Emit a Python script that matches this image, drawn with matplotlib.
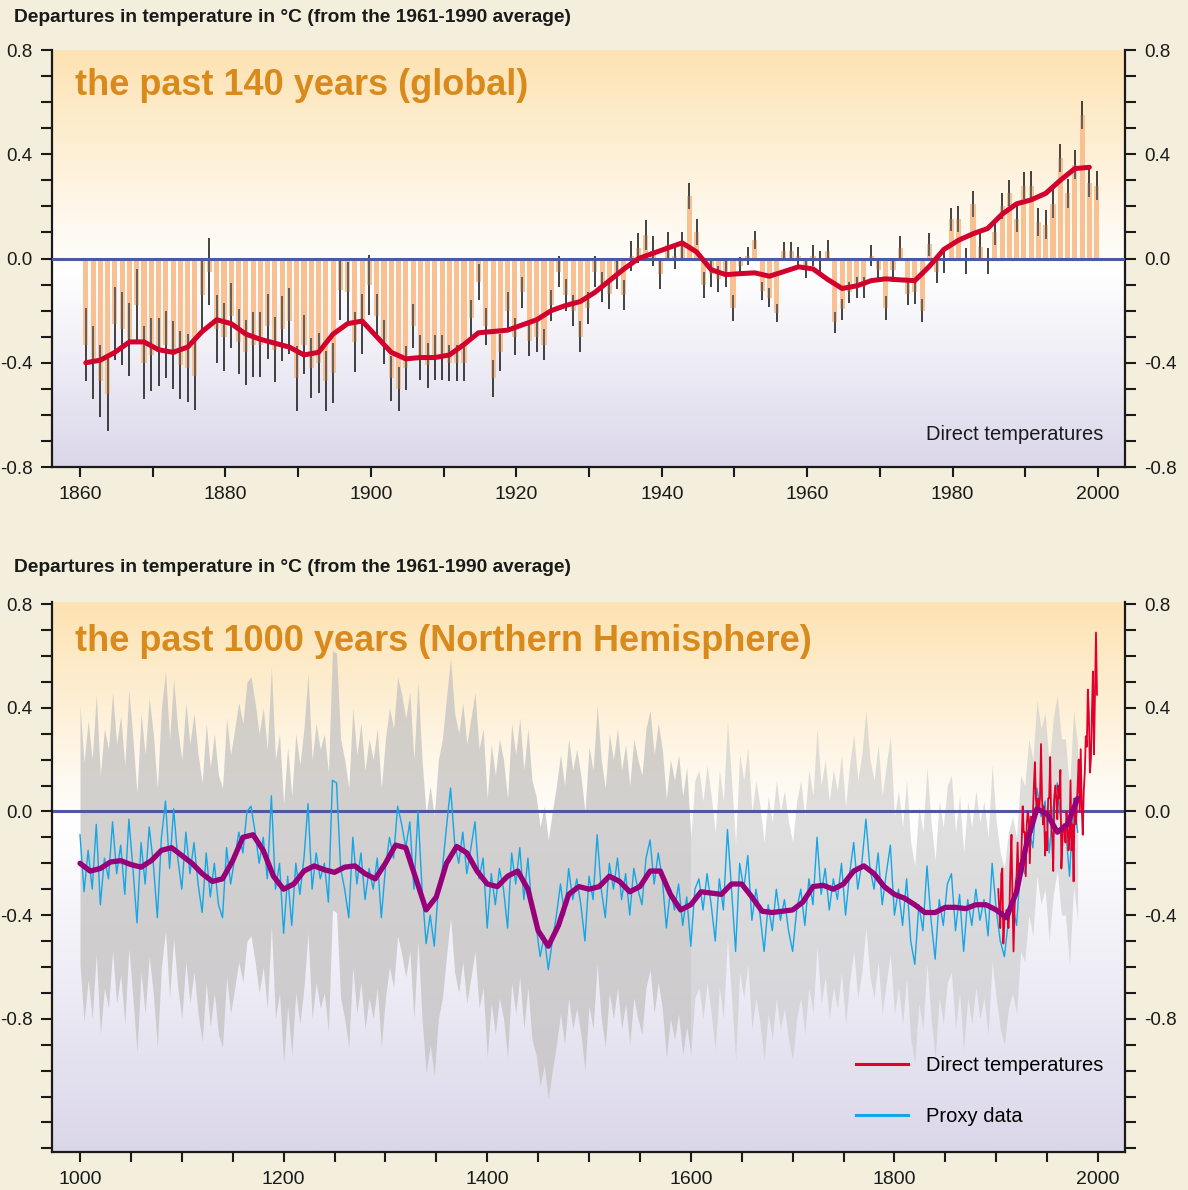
import matplotlib
matplotlib.use('Agg')
import matplotlib.pyplot as plt
import numpy as np
from matplotlib.colors import LinearSegmentedColormap
from matplotlib.lines import Line2D
from matplotlib.ticker import MultipleLocator, FixedLocator, FormatStrFormatter

plt.rcParams['font.family'] = ['Liberation Sans', 'DejaVu Sans']
plt.rcParams['axes.unicode_minus'] = False

# ---------------- dati: ultimi 140 anni (globale) ----------------
anni_140 = np.arange(1861, 2001)
anomalia_globale = [
    -0.33, -0.40, -0.47, -0.52, -0.25, -0.27, -0.31, -0.18, -0.40, -0.37,   # 1861-1870
    -0.36, -0.33, -0.37, -0.41, -0.42, -0.45, -0.14, -0.05, -0.27, -0.30,   # 1871-1880
    -0.22, -0.32, -0.36, -0.33, -0.33, -0.26, -0.35, -0.27, -0.24, -0.46,   # 1881-1890
    -0.33, -0.42, -0.40, -0.47, -0.44, -0.12, -0.13, -0.32, -0.25, -0.10,   # 1891-1900
    -0.22, -0.32, -0.46, -0.50, -0.42, -0.26, -0.38, -0.41, -0.38, -0.38,   # 1901-1910
    -0.40, -0.40, -0.40, -0.23, -0.09, -0.26, -0.46, -0.36, -0.20, -0.30,   # 1911-1920
    -0.13, -0.315, -0.30, -0.33, -0.18, -0.05, -0.14, -0.20, -0.30, -0.19,  # 1921-1930
    -0.05, -0.11, -0.135, -0.06, -0.14, 0.01, 0.04, 0.09, 0.03, -0.06,      # 1931-1940
    0.05, 0.01, 0.05, 0.24, 0.10, -0.10, -0.06, -0.08, -0.06, -0.19,        # 1941-1950
    -0.03, 0.01, 0.07, -0.125, -0.15, -0.21, 0.03, 0.03, 0.01, -0.04,       # 1951-1960
    0.01, -0.01, 0.03, -0.245, -0.195, -0.13, -0.11, -0.11, 0.01, -0.046,   # 1961-1970
    -0.19, -0.046, 0.04, -0.135, -0.13, -0.20, 0.054, -0.05, -0.01, 0.15,   # 1971-1980
    0.15, -0.01, 0.21, 0.046, -0.01, 0.10, 0.20, 0.25, 0.15, 0.28,          # 1981-1990
    0.28, 0.14, 0.13, 0.21, 0.385, 0.25, 0.36, 0.55, 0.29, 0.28,            # 1991-2000
]
# semi-ampiezza delle barre d'errore, per decennio (1861-1870 ... 1991-2000)
errore_decennio = [0.14, 0.13, 0.125, 0.115, 0.085, 0.07, 0.06, 0.058, 0.05, 0.035,
                   0.04, 0.045, 0.05, 0.055]
# curva smussata, ogni 2 anni (1861, 1863, ... 1999)
anni_media_140 = np.arange(1861, 2000, 2)
media_globale = [
    -0.40, -0.39, -0.36, -0.32, -0.32, -0.35, -0.36, -0.34, -0.28, -0.235,
    -0.25, -0.29, -0.31, -0.325, -0.34, -0.37, -0.36, -0.29, -0.25, -0.24,
    -0.30, -0.36, -0.385, -0.38, -0.38, -0.37, -0.33, -0.285, -0.28, -0.275,
    -0.255, -0.235, -0.20, -0.18, -0.165, -0.13, -0.085, -0.04, 0.00, 0.02,
    0.04, 0.06, 0.025, -0.043, -0.062, -0.058, -0.055, -0.068, -0.05, -0.032,
    -0.04, -0.08, -0.115, -0.105, -0.085, -0.078, -0.082, -0.085, -0.03, 0.035,
    0.07, 0.095, 0.115, 0.17, 0.21, 0.225, 0.25, 0.30, 0.345, 0.35,
]

# ---------------- dati: ultimi 1000 anni (emisfero nord) ----------------
anni_proxy = np.arange(1000, 1981, 4)
proxy = [
    -0.09, -0.31, -0.15, -0.30, -0.05, -0.36, -0.18, -0.26, -0.04, -0.24,   # 1000-1036
    -0.13, -0.32, -0.03, -0.22, -0.43, -0.12, -0.28, -0.06, -0.20, -0.41,   # 1040-1076
    -0.10, 0.04, -0.22, 0.01, -0.18, -0.30, -0.08, -0.24, -0.12, -0.28,     # 1080-1116
    -0.39, -0.16, -0.33, -0.20, -0.36, -0.41, -0.14, -0.28, -0.18, -0.08,   # 1120-1156
    -0.16, 0.00, 0.02, -0.08, -0.20, -0.10, -0.26, 0.06, -0.30, -0.20,      # 1160-1196
    -0.47, -0.25, -0.44, -0.20, -0.32, -0.18, 0.03, -0.30, -0.16, -0.26,    # 1200-1236
    -0.20, -0.35, 0.12, 0.11, -0.22, -0.30, -0.41, -0.10, -0.28, -0.16,     # 1240-1276
    -0.34, -0.22, -0.30, -0.18, -0.41, -0.22, -0.10, -0.18, 0.02, -0.05,    # 1280-1316
    -0.14, -0.04, -0.30, 0.00, -0.30, -0.51, -0.40, -0.52, -0.30, -0.22,    # 1320-1356
    -0.06, 0.09, -0.12, -0.20, -0.08, -0.24, -0.14, -0.04, -0.26, -0.18,    # 1360-1396
    -0.45, -0.24, -0.36, -0.22, -0.30, -0.45, -0.16, -0.28, -0.14, -0.34,   # 1400-1436
    -0.18, -0.38, -0.44, -0.56, -0.48, -0.61, -0.50, -0.40, -0.28, -0.40,   # 1440-1476
    -0.22, -0.34, -0.26, -0.36, -0.50, -0.25, -0.34, -0.09, -0.30, -0.41,   # 1480-1516
    -0.20, -0.30, -0.18, -0.34, -0.24, -0.40, -0.22, -0.30, -0.36, -0.18,   # 1520-1556
    -0.11, -0.28, -0.16, -0.26, -0.45, -0.30, -0.38, -0.28, -0.44, -0.33,   # 1560-1596
    -0.52, -0.30, -0.26, -0.38, -0.24, -0.36, -0.50, -0.26, -0.38, -0.07,   # 1600-1636
    -0.30, -0.54, -0.20, -0.30, -0.17, -0.42, -0.30, -0.40, -0.54, -0.36,   # 1640-1676
    -0.46, -0.30, -0.42, -0.34, -0.46, -0.54, -0.38, -0.30, -0.44, -0.26,   # 1680-1716
    -0.36, -0.10, -0.32, -0.22, -0.38, -0.26, -0.34, -0.20, -0.40, -0.24,   # 1720-1756
    -0.12, -0.30, -0.20, -0.03, -0.22, -0.30, -0.16, -0.36, -0.24, -0.13,   # 1760-1796
    -0.40, -0.30, -0.44, -0.26, -0.50, -0.59, -0.36, -0.46, -0.21, -0.42,   # 1800-1836
    -0.57, -0.34, -0.44, -0.28, -0.24, -0.46, -0.32, -0.54, -0.34, -0.44,   # 1840-1876
    -0.30, -0.42, -0.34, -0.48, -0.20, -0.38, -0.50, -0.56, -0.42, -0.36,   # 1880-1916
    -0.44, -0.20, -0.24, -0.06, -0.14, 0.09, -0.02, 0.04, -0.16, 0.02,      # 1920-1956
    0.11, -0.06, -0.06, -0.25, 0.05, -0.08,                                 # 1960-1980
]
# semi-ampiezza della fascia d'incertezza, per secolo (1000s ... 1900s)
incertezza_secolo = [0.50, 0.50, 0.50, 0.50, 0.50, 0.50, 0.42, 0.42, 0.38, 0.34]

anni_media_1000 = np.arange(1000, 1981, 10)
media_proxy = [
    -0.20, -0.23, -0.22, -0.195, -0.19, -0.205, -0.215, -0.19, -0.15, -0.14,   # 1000-1090
    -0.17, -0.20, -0.24, -0.27, -0.26, -0.19, -0.10, -0.09, -0.15, -0.25,      # 1100-1190
    -0.30, -0.28, -0.23, -0.21, -0.225, -0.235, -0.215, -0.21, -0.24, -0.26,   # 1200-1290
    -0.20, -0.13, -0.14, -0.26, -0.38, -0.33, -0.20, -0.135, -0.16, -0.23,     # 1300-1390
    -0.28, -0.29, -0.25, -0.23, -0.30, -0.46, -0.52, -0.44, -0.32, -0.29,      # 1400-1490
    -0.30, -0.29, -0.25, -0.27, -0.31, -0.29, -0.23, -0.23, -0.32, -0.38,      # 1500-1590
    -0.36, -0.31, -0.315, -0.32, -0.28, -0.28, -0.33, -0.385, -0.39, -0.385,   # 1600-1690
    -0.38, -0.35, -0.29, -0.285, -0.30, -0.28, -0.23, -0.21, -0.24, -0.29,     # 1700-1790
    -0.32, -0.335, -0.36, -0.39, -0.39, -0.37, -0.37, -0.375, -0.36, -0.36,    # 1800-1890
    -0.38, -0.41, -0.31, -0.12, 0.01, -0.01, -0.08, -0.05, 0.05,               # 1900-1980
]

anni_diretti = np.arange(1902, 2000)
temperature_nh = [
    -0.30, -0.38, -0.45, -0.24, -0.22, -0.51, -0.42, -0.40, -0.38, -0.40,   # 1902-1911
    -0.45, -0.38, -0.20, -0.09, -0.35, -0.54, -0.38, -0.28, -0.25, -0.12,   # 1912-1921
    -0.25, -0.20, -0.25, -0.12, 0.02, -0.08, -0.08, -0.25, -0.05, 0.00,     # 1922-1931
    -0.03, -0.20, -0.02, -0.08, -0.02, 0.10, 0.19, 0.05, 0.02, 0.05,        # 1932-1941
    0.00, 0.05, 0.26, 0.05, -0.05, 0.02, -0.17, -0.08, -0.15, 0.05,         # 1942-1951
    0.05, 0.21, -0.05, -0.10, -0.23, 0.05, 0.10, 0.05, -0.03, 0.10,         # 1952-1961
    0.05, 0.16, -0.22, -0.12, -0.05, -0.05, -0.12, 0.00, -0.05, -0.15,      # 1962-1971
    -0.10, 0.12, -0.15, -0.05, -0.27, 0.05, -0.05, 0.00, 0.10, 0.20,        # 1972-1981
    0.00, 0.24, 0.02, -0.09, 0.08, 0.15, 0.29, 0.25, 0.47, 0.38,            # 1982-1991
    0.15, 0.20, 0.38, 0.54, 0.22, 0.45, 0.69, 0.45,                         # 1992-1999
]

titolo_asse = 'Departures in temperature in °C (from the 1961-1990 average)'

# colori
SFONDO = '#f3efdc'
ARANCIO_TITOLO = '#d98a1c'
BLU_ZERO = '#4d58a4'
TESTO = '#1a1a1a'


def sfondo_sfumato(ax, x0, x1, y0, y1):
    frac_bianco = (-0.05 - y0) / (y1 - y0)
    cmap = LinearSegmentedColormap.from_list(
        'sfondo', [(0, '#dbd7ea'), (frac_bianco, '#ffffff'), (1, '#fde3b3')])
    righe = np.linspace(y0, y1, 300).reshape(-1, 1)
    ax.imshow(righe, extent=[x0, x1, y0, y1], origin='lower', aspect='auto',
              cmap=cmap, vmin=y0, vmax=y1, zorder=0)
    ax.set_xlim(x0, x1)
    ax.set_ylim(y0, y1)


def stile_assi(ax):
    for lato in ['left', 'right', 'bottom']:
        ax.spines[lato].set_linewidth(1.6)
        ax.spines[lato].set_color(TESTO)
    ax.spines['top'].set_visible(False)
    ax.tick_params(which='both', direction='out', length=8, width=1.5,
                   left=True, right=True, labelleft=True, labelright=True,
                   top=False, labelsize=13.5, colors=TESTO)
    ax.tick_params(axis='x', which='both', length=7, pad=7, labelsize=14)
    ax.tick_params(axis='y', which='both', pad=6)
    ax.yaxis.set_major_formatter(FormatStrFormatter('%.1f'))
    ax.yaxis.set_minor_locator(MultipleLocator(0.1))


fig = plt.figure(figsize=(11.88, 11.90), dpi=100)
fig.patch.set_facecolor(SFONDO)

ax1 = fig.add_axes([0.04377, 0.60756, 0.9032, 0.35042])
ax2 = fig.add_axes([0.04377, 0.03193, 0.9032, 0.46218])

# ---------- pannello superiore ----------
sfondo_sfumato(ax1, 1856.15, 2003.7, -0.8, 0.8)
v = np.array(anomalia_globale)
err = np.repeat(errore_decennio, 10)
x_barre = anni_140 - 0.2
ax1.bar(x_barre, v, width=0.7, color='#f9c191', zorder=2)
ax1.vlines(x_barre, v - err, v + err, color='#111111', lw=1.1, zorder=3)
# tratto grigio dove la barra d'errore sta dentro la barra
dentro_lo = np.maximum(v - err, np.minimum(v, 0))
dentro_hi = np.minimum(v + err, np.maximum(v, 0))
ok = dentro_hi > dentro_lo
ax1.vlines(x_barre[ok], dentro_lo[ok], dentro_hi[ok], color='#6d6d6d', lw=1.1, zorder=3.5)
ax1.axhline(0, color=BLU_ZERO, lw=2.2, zorder=4)
ax1.plot(anni_media_140 - 0.2, media_globale, color='#d2002c', lw=3.6,
         solid_capstyle='round', zorder=5)

ax1.xaxis.set_major_locator(MultipleLocator(20))
ax1.xaxis.set_minor_locator(MultipleLocator(10))
ax1.yaxis.set_major_locator(FixedLocator([-0.8, -0.4, 0.0, 0.4, 0.8]))
stile_assi(ax1)

ax1.text(0.0214, 0.916, 'the past 140 years (global)', transform=ax1.transAxes,
         color=ARANCIO_TITOLO, fontsize=26, fontweight='bold', ha='left', va='center')
ax1.text(0.9795, 0.077, 'Direct temperatures', transform=ax1.transAxes,
         fontsize=14.5, color=TESTO, ha='right', va='center')

# ---------- pannello inferiore ----------
sfondo_sfumato(ax2, 972.5, 2026.5, -1.314, 0.808)
p = np.array(proxy)
mezza = np.array(incertezza_secolo)[(anni_proxy - 1000) // 100]
prima = anni_proxy <= 1600
dopo = anni_proxy >= 1600
ax2.fill_between(anni_proxy[prima], p[prima] - mezza[prima], p[prima] + mezza[prima],
                 color='#c4c2c1', alpha=0.75, lw=0, zorder=1)
ax2.fill_between(anni_proxy[dopo], p[dopo] - mezza[dopo], p[dopo] + mezza[dopo],
                 color='#c6c6c6', alpha=0.55, lw=0, zorder=1)
ax2.axhline(0, color=BLU_ZERO, lw=2.2, zorder=2)
ax2.plot(anni_proxy, p, color='#14a6e6', lw=1.0, zorder=3)
ax2.plot(anni_diretti, temperature_nh, color='#e2002b', lw=1.3, zorder=4)
ax2.plot(anni_media_1000, media_proxy, color='#98007a', lw=3.8,
         solid_capstyle='round', zorder=5)

ax2.xaxis.set_major_locator(MultipleLocator(200))
ax2.xaxis.set_minor_locator(MultipleLocator(50))
ax2.yaxis.set_major_locator(FixedLocator([-0.8, -0.4, 0.0, 0.4, 0.8]))
stile_assi(ax2)

ax2.text(0.0214, 0.929, 'the past 1000 years (Northern Hemisphere)', transform=ax2.transAxes,
         color=ARANCIO_TITOLO, fontsize=26, fontweight='bold', ha='left', va='center')

maniglie = [Line2D([], [], color='#e2002b', lw=2.2), Line2D([], [], color='#14a6e6', lw=2.2)]
ax2.legend(maniglie, ['Direct temperatures', 'Proxy data'], loc='lower right',
           bbox_to_anchor=(0.98, 0.047), frameon=False, fontsize=14.5,
           handlelength=2.6, handletextpad=0.9, labelspacing=1.6,
           borderaxespad=0, borderpad=0)

# titoli degli assi
fig.text(0.0118, 0.985, titolo_asse, fontsize=13.8, fontweight='bold', color=TESTO,
         ha='left', va='center')
fig.text(0.0118, 0.5235, titolo_asse, fontsize=13.8, fontweight='bold', color=TESTO,
         ha='left', va='center')

fig.savefig('out.png', dpi=100, facecolor=fig.get_facecolor())
